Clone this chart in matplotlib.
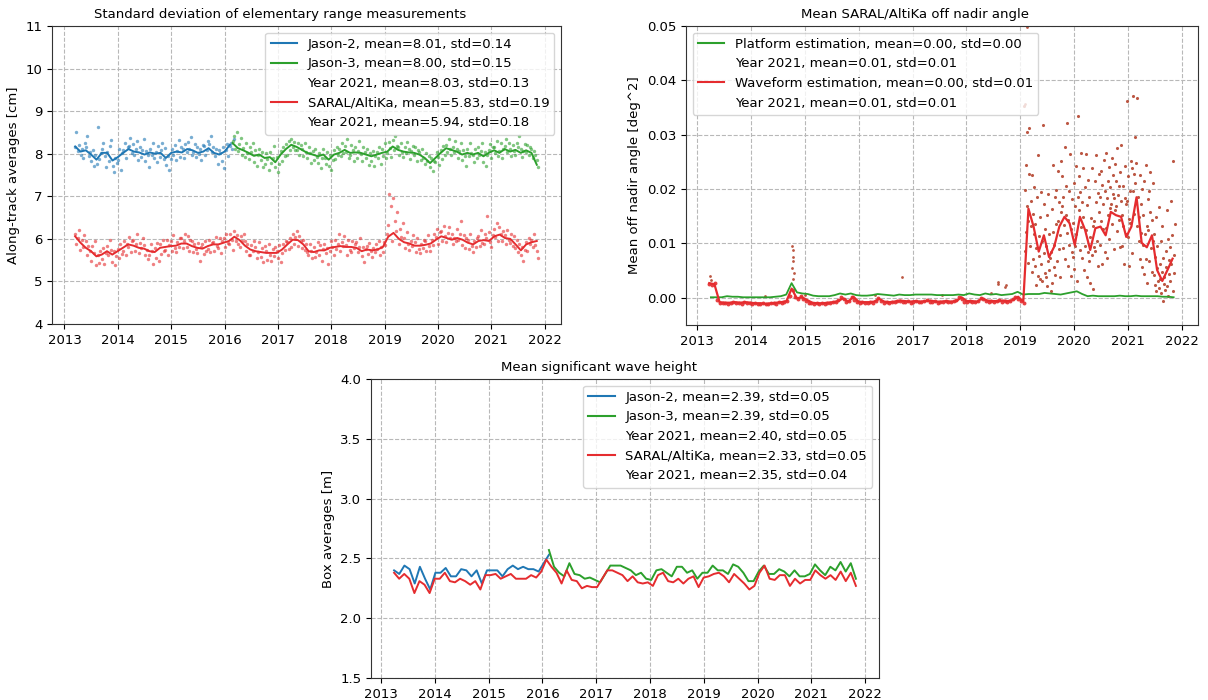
import numpy as np
import matplotlib
matplotlib.use("Agg")
import matplotlib.pyplot as plt
from matplotlib.lines import Line2D

FS = 9.5
plt.rcParams.update({"font.family": "DejaVu Sans", "font.size": FS})

BLUE = "#1f77b4"
GREEN = "#2ca02c"
RED = "#e52c2f"
BROWN = "#b5452e"

years = [2013, 2014, 2015, 2016, 2017, 2018, 2019, 2020, 2021, 2022]

# ---------------- Panel 1: std of elementary range (cm) ----------------
j2_line_span = (2013.2, 2016.1)
j2_line = [8.17, 8.05, 8.08, 7.98, 7.86, 8.02, 8.02, 7.84, 7.92, 8.02,
           8.11, 8.05, 8.03, 7.98, 8.03, 8.00, 8.02, 7.90, 8.02, 8.05,
           8.03, 8.11, 8.08, 8.02, 8.05, 8.13, 8.02, 7.98, 8.05, 8.21]
j3_line_span = (2016.15, 2021.85)
j3_line = [8.25, 8.13, 8.08, 8.02, 7.95, 7.98, 7.90, 7.92, 7.80, 7.98,
           8.11, 8.21, 8.16, 8.09, 8.02, 7.98, 7.94, 7.98, 7.86, 7.98,
           8.02, 8.09, 8.02, 8.03, 8.02, 7.98, 7.94, 7.98, 8.02, 8.05,
           8.17, 8.09, 8.05, 8.03, 8.02, 7.98, 7.90, 7.78, 7.90, 8.02,
           8.13, 8.09, 8.05, 7.98, 8.02, 7.98, 8.02, 7.94, 8.02, 8.08,
           8.02, 8.11, 8.05, 8.09, 8.02, 8.08, 8.02, 7.74]
sa_line_span = (2013.2, 2021.85)
sa_line = [6.06, 5.91, 5.79, 5.71, 5.59, 5.63, 5.71, 5.63, 5.71, 5.79,
           5.87, 5.84, 5.79, 5.77, 5.71, 5.69, 5.79, 5.81, 5.83, 5.84,
           5.89, 5.89, 5.83, 5.79, 5.77, 5.83, 5.87, 5.87, 5.91, 5.95,
           6.05, 5.97, 5.84, 5.75, 5.71, 5.69, 5.67, 5.67, 5.67, 5.75,
           5.87, 5.98, 5.97, 5.87,
           5.71, 5.69, 5.73, 5.73, 5.79, 5.81, 5.83, 5.81, 5.81, 5.79,
           5.71, 5.75, 5.73, 5.75, 5.81, 6.05, 6.14, 6.00, 5.92, 5.89,
           5.84, 5.84, 5.86, 5.89, 5.98, 6.06, 6.02, 5.98, 6.02, 5.98,
           5.91, 5.87, 5.95, 5.97, 5.95, 6.06, 6.10, 6.02, 6.00, 5.87,
           5.73, 5.87, 5.92, 5.95]

# individual along-track points, in 0.01 cm
j2_pts_span = (2013.2, 2016.17)
j2_pts = [815, 852, 806, 821, 798, 812, 789, 825, 816, 842, 795, 803,
          782, 809, 771, 798, 776, 862, 788, 801, 811, 826, 795, 768,
          804, 783, 817, 832, 772, 758, 791, 779, 786, 812, 762, 801,
          809, 824, 791, 816, 818, 836, 802, 823, 797, 812, 829, 786,
          815, 793, 808, 835, 784, 806, 797, 768, 812, 796, 824, 789,
          803, 781, 818, 792, 809, 826, 788, 814, 774, 795, 762, 787,
          812, 798, 821, 785, 806, 833, 792, 815, 811, 789, 823, 804,
          827, 812, 839, 796, 804, 822, 793, 816, 799, 811, 786, 821,
          818, 796, 809, 831, 822, 841, 805, 816, 795, 812, 776, 808,
          801, 782, 815, 766, 808, 822, 794, 817, 826, 812, 835]
j3_pts_span = (2016.15, 2021.87)
j3_pts = [829, 841, 812, 852, 806, 822, 838, 797, 813, 792, 826, 801,
          788, 815, 803, 824, 781, 809, 772, 796, 812, 786, 803, 769,
          776, 802, 788, 761, 805, 779, 791, 818, 768, 792, 758, 776,
          806, 784, 815, 795, 822, 798, 831, 809, 834, 815, 828, 808,
          809, 826, 798, 821, 812, 795, 826, 803, 789, 816, 802, 778,
          806, 785, 812, 792, 778, 801, 766, 789, 812, 791, 775, 804,
          772, 798, 761, 786, 809, 787, 815, 796, 812, 794, 826, 801,
          818, 803, 835, 791, 796, 821, 808, 784, 815, 791, 806, 829,
          799, 784, 816, 805, 791, 812, 773, 802, 782, 806, 771, 795,
          804, 789, 816, 776, 811, 795, 824, 789, 802, 828, 813, 792,
          832, 808, 841, 819, 815, 797, 826, 803, 792, 816, 801, 827,
          811, 788, 806, 819, 797, 815, 783, 808, 805, 786, 812, 791,
          776, 801, 782, 795, 768, 791, 759, 782, 781, 803, 792, 774,
          809, 788, 818, 796, 821, 805, 835, 812, 798, 816, 803, 829,
          812, 791, 806, 824, 786, 809, 795, 772, 811, 794, 826, 802,
          796, 781, 812, 789, 815, 798, 806, 825, 781, 805, 772, 796,
          809, 822, 791, 815, 816, 801, 829, 795, 806, 824, 789, 812,
          819, 834, 803, 826, 812, 795, 821, 806, 798, 826, 815, 841,
          811, 792, 806, 823, 803, 821, 796, 815, 812, 791, 806, 797,
          785, 768]
sa_pts_span = (2013.2, 2021.87)
sa_pts = [612, 588, 603, 621, 575, 598, 582, 609, 596, 561, 584, 572,
          548, 583, 567, 596, 538, 562, 544, 571, 552, 578, 541, 566,
          584, 561, 597, 573, 546, 571, 538, 559, 577, 556, 589, 565,
          572, 596, 561, 588, 582, 605, 569, 594, 597, 571, 588, 612,
          566, 591, 578, 603, 586, 561, 574, 552, 563, 589, 571, 542,
          578, 556, 591, 548, 588, 565, 597, 571, 574, 598, 562, 586,
          595, 571, 608, 579, 568, 592, 581, 603, 601, 578, 594, 611,
          582, 606, 571, 597, 594, 569, 588, 576, 566, 591, 548, 582,
          587, 565, 596, 571, 576, 598, 569, 591, 592, 571, 605, 583,
          578, 601, 566, 594, 603, 582, 612, 591, 587, 611, 598, 574,
          619, 596, 608, 588, 582, 607, 594, 612, 596, 571, 588, 563,
          562, 586, 571, 596, 581, 554, 568, 592, 557, 578, 546, 583,
          572, 551, 589, 561, 548, 576, 559, 582, 571, 556, 585, 545,
          566, 588, 574, 596, 592, 576, 603, 581, 611, 589, 604, 618,
          584, 606, 595, 579, 598, 574, 589, 568, 563, 588, 572, 554,
          581, 557, 569, 593, 562, 586, 548, 577, 589, 566, 578, 541,
          571, 594, 582, 563, 598, 576, 589, 611, 571, 592, 583, 606,
          586, 563, 597, 574, 569, 594, 578, 588, 592, 568, 581, 603,
          559, 582, 546, 576, 583, 564, 591, 571, 557, 578, 569, 589,
          576, 594, 561, 582, 568, 592, 586, 612, 632, 705, 678, 596,
          695, 641, 618, 662, 589, 622, 604, 637, 601, 578, 616, 589,
          574, 596, 583, 608, 592, 569, 601, 576, 566, 588, 579, 597,
          594, 572, 609, 583, 571, 598, 586, 612, 604, 623, 589, 615,
          618, 596, 631, 607, 593, 614, 627, 601, 612, 587, 603, 596,
          624, 598, 611, 641, 586, 608, 579, 601, 598, 576, 612, 583,
          569, 594, 581, 603, 606, 583, 621, 591, 588, 612, 603, 654,
          617, 592, 581, 608, 622, 604, 637, 595, 628, 612, 596, 619,
          608, 589, 621, 597, 591, 612, 583, 606, 579, 598, 568, 587,
          562, 581, 548, 574, 592, 571, 603, 588, 598, 581, 611, 586,
          572, 556]

labels1 = ["Jason-2, mean=8.01, std=0.14",
           "Jason-3, mean=8.00, std=0.15",
           "Year 2021, mean=8.03, std=0.13",
           "SARAL/AltiKa, mean=5.83, std=0.19",
           "Year 2021, mean=5.94, std=0.18"]

# ---------------- Panel 2: off nadir angle (deg^2) ----------------
platform_span = (2013.25, 2021.85)
platform_e4 = [1, 1, 1, 3, 2, 2, 1, 1, 1, 1,
               1, 1, 2, 3, 6, 27, 10, 8, 7, 4,
               3, 3, 3, 5, 8, 6, 8, 5, 4, 4,
               5, 7, 6, 5, 4, 6, 5, 5, 6, 6,
               6, 6, 5, 5, 5, 5, 6, 5, 8, 6,
               5, 8, 6, 7, 5, 6, 7, 11, 6, 7,
               7, 7, 9, 8, 7, 6, 8, 10, 12, 7,
               3, 4, 3, 3, 3, 3, 4, 3, 3, 4,
               3, 3, 3, 3, 2, 2, 1]
waveform_span = (2013.22, 2021.83)
waveform_e4 = [27, 25, -8, -9, -9, -8, -9, -8, -9, -10,
               -10, -11, -10, -9, -8, -6, 17, -1, 1, -4,
               -9, -10, -10, -9, -8, -6, -1, -7, 2, -7,
               -8, -8, -7, -2, -7, -8, -7, -5, -6, -7,
               -6, -7, -6, -5, -7, -7, -6, -7, -6, 1,
               -6, -6, -7, -1, -5, -6, -6, -5, -6, -4,
               2, -7,
               164, 131, 85, 115, 75, 94, 131, 149, 137, 97,
               149, 125, 88, 128, 131, 115, 158, 152, 149, 112,
               131, 185, 101, 93, 115, 51, 31, 51, 72]
wf_pre_span = (2013.22, 2019.06)
wf_pre_e4 = [26, 24, 27, -4, -9, -10, -9, -11, -10, -8, -10, -9, -11, -8,
             -10, -9, -11, -10, -12, -11, -10, -12, -11, -10, -9, -11, -8,
             -9, -7, -5, 4, 14, 2, -2, 3, -3, -6, -9, -10, -11, -10, -12,
             -10, -11, -9, -10, -8, -7, -4, 1, -3, -8, -6, 2, -4, -8, -9,
             -8, -10, -9, -8, -9, -6, 0, -6, -9, -8, -9, -7, -8, -6, -5,
             -7, -8, -6, -9, -7, -6, -8, -7, -6, -4, -7, -8, -6, -9, -7,
             -8, -6, -7, -8, -6, -4, 1, -3, -7, -8, -6, -7, -8, -5, 0, -3,
             -6, -7, -5, -8, -6, -4, -7, -5, -8, -6, -3, 2, -2, -6, -9]
wf_out_t = [2013.24, 2013.26, 2014.76, 2014.77, 2014.77, 2014.78, 2014.76,
            2014.79, 2014.78, 2016.80, 2015.00, 2018.58, 2018.59, 2018.73,
            2018.72, 2018.45, 2016.30, 2017.55, 2014.25, 2019.12, 2019.08]
wf_out_e4 = [40, 33, 96, 88, 76, 68, 55, 45, 35, 39, 6, 30, 25, 23,
             19, 9, 5, 5, 4, 498, 356]
wf_post_span = (2019.07, 2021.87)
wf_post_e4 = [352, 198, 87, 245, 121, 168, 305, 64, 142, 228,
              312, 95, 178, 132, 48, 226, 154, 72, 203, 118,
              58, 135, 24, 92, 186, 41, 262, 77, 113, 35,
              148, 62, 195, 31, 104, 318, 83, 172, 126, 45,
              38, 96, 152, 21, 68, 191, 52, 117, 74, 12,
              84, 163, 27, 121, 245, 56, 98, 185, 42, 136,
              198, 67, 142, 233, 89, 176, 115, 38, 251, 157,
              168, 224, 92, 185, 134, 278, 71, 205, 152, 119,
              322, 143, 58, 196, 98, 265, 127, 41, 182, 85,
              76, 138, 212, 53, 169, 95, 242, 118, 31, 186,
              335, 162, 224, 88, 195, 131, 267, 74, 176, 238,
              148, 52, 203, 96, 265, 124, 38, 171, 85, 216,
              68, 185, 112, 28, 147, 238, 79, 16, 132, 94,
              142, 215, 87, 176, 262, 105, 193, 58, 158, 227,
              185, 97, 234, 141, 62, 208, 126, 172, 253, 84,
              196, 128, 267, 73, 184, 215, 152, 241, 109, 165,
              204, 172, 258, 135, 191, 226, 89, 183, 247, 161,
              168, 215, 122, 276, 189, 143, 206, 94, 232, 178,
              281, 152, 96, 205, 133, 63, 184, 242, 118, 172,
              362, 178, 112, 224, 145, 58, 196, 137, 251, 83,
              238, 372, 196, 227, 154, 295, 212, 176, 248, 132,
              367, 185, 104, 148, 226, 72, 173, 119, 201, 56,
              97, 152, 43, 214, 118, 71, 245, 133, 28, 181,
              124, 196, 68, 158, 232, 91, 143, 47, 212, 105,
              42, 118, 23, 76, 148, 12, 95, 54, 31, 167,
              18, 62, 35, 104, 8, 47, 132, -6, 73, 26,
              38, 14, 86, 57, 162, 21, 108, 3, 69, 43,
              94, 31, 178, 62, 115, 12, 251, 78, 45, 136]
labels2 = ["Platform estimation, mean=0.00, std=0.00",
           "Year 2021, mean=0.01, std=0.01",
           "Waveform estimation, mean=0.00, std=0.01",
           "Year 2021, mean=0.01, std=0.01"]

# ---------------- Panel 3: SWH box averages (m), 35-day cycles ----------------
swh_j2_span = (2013.24, 2016.12)
swh_j2 = [2.40, 2.37, 2.44, 2.41, 2.29, 2.43, 2.33, 2.24, 2.38, 2.38,
          2.42, 2.35, 2.35, 2.41, 2.40, 2.35, 2.40, 2.29, 2.40, 2.40,
          2.40, 2.35, 2.41, 2.44, 2.41, 2.43, 2.41, 2.41, 2.39, 2.46, 2.53]
swh_j3_span = (2016.12, 2021.83)
swh_j3 = [2.57, 2.43, 2.38, 2.35, 2.46, 2.37, 2.36, 2.33, 2.34, 2.32,
          2.30, 2.37, 2.44, 2.44, 2.44, 2.42,
          2.40, 2.36, 2.38, 2.33, 2.32, 2.40, 2.41, 2.38, 2.35, 2.43,
          2.43, 2.38, 2.40, 2.33, 2.38, 2.38, 2.44, 2.40, 2.40, 2.37,
          2.45, 2.43, 2.38, 2.31, 2.31, 2.39, 2.44, 2.37, 2.37, 2.41,
          2.39, 2.35, 2.40, 2.35, 2.35, 2.37, 2.45, 2.40, 2.36, 2.43,
          2.40, 2.47, 2.39, 2.46, 2.33]
swh_sa_span = (2013.24, 2021.83)
swh_sa = [2.38, 2.33, 2.37, 2.33, 2.21, 2.31, 2.28, 2.21, 2.33, 2.33,
          2.38, 2.31, 2.30, 2.33, 2.31, 2.28, 2.31, 2.24, 2.36, 2.36,
          2.37, 2.33, 2.35, 2.37, 2.33, 2.33, 2.33, 2.36, 2.34, 2.39,
          2.49, 2.43, 2.38, 2.29, 2.40, 2.32, 2.31, 2.25, 2.27, 2.26,
          2.26, 2.33, 2.40, 2.40, 2.38, 2.36, 2.31,
          2.35, 2.30, 2.29, 2.30, 2.27, 2.36, 2.38, 2.31, 2.30, 2.33,
          2.29, 2.33, 2.35, 2.26, 2.34, 2.35, 2.37, 2.38, 2.35, 2.30,
          2.37, 2.33, 2.29, 2.24, 2.27, 2.38, 2.44, 2.33, 2.32, 2.36,
          2.36, 2.27, 2.33, 2.29, 2.32, 2.32, 2.40, 2.36, 2.33, 2.36,
          2.32, 2.39, 2.31, 2.38, 2.27]
labels3 = ["Jason-2, mean=2.39, std=0.05",
           "Jason-3, mean=2.39, std=0.05",
           "Year 2021, mean=2.40, std=0.05",
           "SARAL/AltiKa, mean=2.33, std=0.05",
           "Year 2021, mean=2.35, std=0.04"]


def tgrid(span, values):
    return np.linspace(span[0], span[1], len(values))


def style(ax):
    ax.grid(True, linestyle="--", color="#b8b8b8", linewidth=0.8)
    ax.set_axisbelow(True)
    ax.set_xticks(years)
    ax.tick_params(labelsize=FS)
    for s in ax.spines.values():
        s.set_color("#333333")


W, H = 1208.0, 700.0


def box(l, t, r, b):
    return [l / W, 1 - b / H, (r - l) / W, (b - t) / H]


fig = plt.figure(figsize=(12.08, 7.0), dpi=100)
ax1 = fig.add_axes(box(52, 26, 561, 324))
ax2 = fig.add_axes(box(686, 26, 1198, 325))
ax3 = fig.add_axes(box(371, 379, 879, 678))

blank = Line2D([], [], color="none")

# Panel 1
for span, pts, col in [(j2_pts_span, j2_pts, BLUE), (j3_pts_span, j3_pts, GREEN),
                       (sa_pts_span, sa_pts, RED)]:
    ax1.scatter(tgrid(span, pts), np.array(pts) / 100.0, s=6, color=col,
                alpha=0.6, linewidths=0)
ax1.plot(tgrid(j2_line_span, j2_line), j2_line, color=BLUE, lw=1.4)
ax1.plot(tgrid(j3_line_span, j3_line), j3_line, color=GREEN, lw=1.4)
ax1.plot(tgrid(sa_line_span, sa_line), sa_line, color=RED, lw=1.4)
ax1.set_ylim(4, 11)
ax1.set_yticks(range(4, 12))
ax1.set_ylabel("Along-track averages [cm]")
ax1.set_title("Standard deviation of elementary range measurements", fontsize=FS, x=0.448)
style(ax1)
h1 = [Line2D([], [], color=BLUE), Line2D([], [], color=GREEN), blank,
      Line2D([], [], color=RED), blank]
ax1.legend(h1, labels1, loc="upper right", fontsize=FS)

# Panel 2
ax2.scatter(tgrid(wf_pre_span, wf_pre_e4), np.array(wf_pre_e4) * 1e-4, s=8, color=RED,
            alpha=0.9, linewidths=0)
ax2.scatter(wf_out_t, np.array(wf_out_e4) * 1e-4, s=4, color=BROWN, alpha=0.9, linewidths=0)
ax2.scatter(tgrid(wf_post_span, wf_post_e4), np.array(wf_post_e4) * 1e-4, s=5, color=BROWN,
            alpha=0.9, linewidths=0)
ax2.plot(tgrid(platform_span, platform_e4), np.array(platform_e4) * 1e-4, color=GREEN, lw=1.3)
ax2.plot(tgrid(waveform_span, waveform_e4), np.array(waveform_e4) * 1e-4, color=RED, lw=1.6)
ax2.set_ylim(-0.005, 0.05)
ax2.set_yticks([0.0, 0.01, 0.02, 0.03, 0.04, 0.05])
ax2.set_yticklabels(["0.00", "0.01", "0.02", "0.03", "0.04", "0.05"])
ax2.set_ylabel("Mean off nadir angle [deg^2]")
ax2.set_title("Mean SARAL/AltiKa off nadir angle", fontsize=FS, x=0.448)
style(ax2)
h2 = [Line2D([], [], color=GREEN), blank, Line2D([], [], color=RED), blank]
ax2.legend(h2, labels2, loc="upper left", fontsize=FS)

# Panel 3
ax3.plot(tgrid(swh_j2_span, swh_j2), swh_j2, color=BLUE, lw=1.4)
ax3.plot(tgrid(swh_j3_span, swh_j3), swh_j3, color=GREEN, lw=1.4)
ax3.plot(tgrid(swh_sa_span, swh_sa), swh_sa, color=RED, lw=1.4)
ax3.set_ylim(1.5, 4.0)
ax3.set_yticks([1.5, 2.0, 2.5, 3.0, 3.5, 4.0])
ax3.set_ylabel("Box averages [m]")
ax3.set_title("Mean significant wave height", fontsize=FS, x=0.448)
style(ax3)
h3 = [Line2D([], [], color=BLUE), Line2D([], [], color=GREEN), blank,
      Line2D([], [], color=RED), blank]
ax3.legend(h3, labels3, loc="upper right", fontsize=FS)

fig.savefig("out.png", dpi=100)
